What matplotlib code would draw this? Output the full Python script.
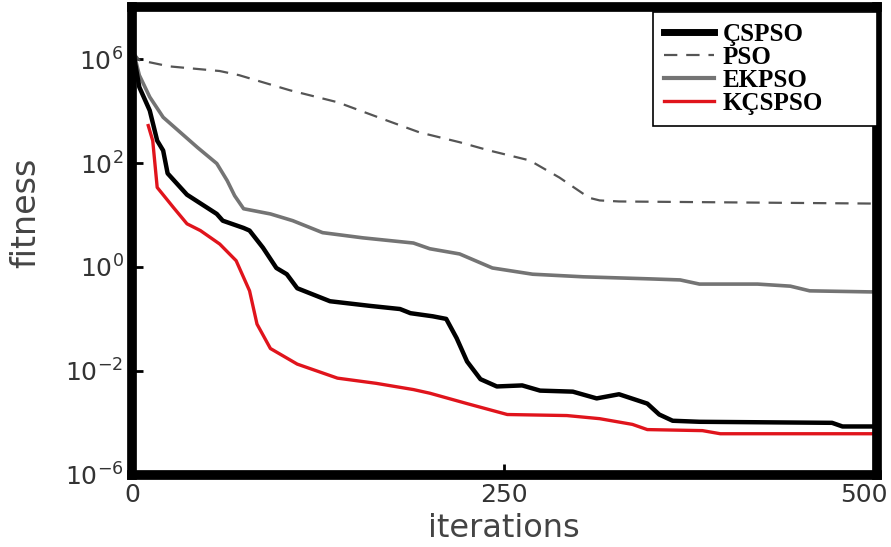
import numpy as np
import matplotlib
matplotlib.use('Agg')
import matplotlib.pyplot as plt
from matplotlib.transforms import ScaledTranslation

# values: iteration, log10(fitness)
pso_x = [0, 5, 25, 59, 72, 86, 106, 138, 171, 193, 220, 240, 267, 287, 307, 314, 327, 495, 500]
pso_y = [4.17, 3.98, 3.86, 3.77, 3.69, 3.57, 3.40, 3.17, 2.82, 2.59, 2.40, 2.24, 2.05, 1.72, 1.33, 1.28, 1.26, 1.22, 1.22]

ekpso_x = [0, 5, 12, 21, 44, 57, 64, 69, 75, 93, 108, 128, 155, 189, 200, 220, 242, 269, 303, 348, 368, 381, 420, 442, 455, 495, 500]
ekpso_y = [4.27, 3.69, 3.27, 2.88, 2.30, 1.99, 1.66, 1.37, 1.12, 1.02, 0.89, 0.66, 0.56, 0.46, 0.35, 0.25, -0.02, -0.14, -0.19, -0.23, -0.25, -0.33, -0.33, -0.37, -0.46, -0.48, -0.48]

cspso_x = [0, 5, 12, 17, 21, 24, 37, 57, 61, 75, 79, 88, 97, 104, 111, 133, 160, 180, 187, 202, 211, 218, 225, 234, 245, 262, 274, 296, 312, 327, 346, 354, 363, 381, 470, 477, 497, 500]
cspso_y = [4.27, 3.46, 3.01, 2.43, 2.24, 1.80, 1.39, 1.02, 0.89, 0.75, 0.70, 0.37, -0.02, -0.14, -0.41, -0.66, -0.75, -0.81, -0.89, -0.95, -1.00, -1.37, -1.82, -2.16, -2.30, -2.28, -2.38, -2.40, -2.53, -2.45, -2.63, -2.84, -2.96, -2.98, -3.00, -3.07, -3.07, -3.07]

kcspso_x = [11, 14, 17, 28, 37, 46, 59, 70, 79, 84, 93, 111, 138, 164, 189, 200, 225, 252, 292, 314, 336, 346, 383, 395, 495, 500]
kcspso_y = [2.72, 2.43, 1.53, 1.14, 0.83, 0.70, 0.44, 0.12, -0.46, -1.10, -1.57, -1.87, -2.14, -2.24, -2.36, -2.43, -2.63, -2.84, -2.86, -2.92, -3.03, -3.13, -3.15, -3.21, -3.21, -3.21]

ytick_vals = [1e4, 1e2, 1e0, 1e-2, 1e-4]
ytick_labels = ['6', '2', '0', '-2', '-6']
xtick_vals = [0, 250, 500]

fig = plt.figure(figsize=(8.91, 5.47), dpi=100)
ax = fig.add_axes([0.148, 0.132, 0.836, 0.855])

ax.plot(pso_x, 10.0 ** np.array(pso_y), color='#555555', lw=1.6, dashes=(6, 4), label='PSO')
ax.plot(ekpso_x, 10.0 ** np.array(ekpso_y), color='#747474', lw=2.6, label='EKPSO')
ax.plot(kcspso_x, 10.0 ** np.array(kcspso_y), color='#e0141c', lw=2.4, label='KÇSPSO')
ax.plot(cspso_x, 10.0 ** np.array(cspso_y), color='black', lw=3.2, label='ÇSPSO')

ax.set_yscale('log')
ax.set_xlim(0, 500)
ax.set_ylim(1e-4, 1e5)
ax.set_yticks(ytick_vals)
ax.set_yticklabels([r'$\mathregular{10^{%s}}$' % e for e in ytick_labels])
ax.yaxis.set_minor_locator(matplotlib.ticker.NullLocator())
ax.set_xticks(xtick_vals)
ax.set_xticklabels([str(v) for v in xtick_vals])
ax.tick_params(direction='in', length=8, width=2, labelsize=18, labelcolor='#333333', pad=6)
last = ax.get_xticklabels()[-1]
last.set_transform(last.get_transform() + ScaledTranslation(-9 / 72, 0, fig.dpi_scale_trans))

for s in ax.spines.values():
    s.set_linewidth(7)

ax.set_xlabel('iterations', fontsize=23, color='#444444', labelpad=4)
ax.set_ylabel('fitness', fontsize=24, color='#444444')
ax.yaxis.set_label_coords(-0.12, 0.56)

handles, labels = ax.get_legend_handles_labels()
order = [3, 0, 1, 2]
leg = ax.legend([handles[i] for i in order], [labels[i] for i in order],
                loc='upper right', bbox_to_anchor=(0.699, 0.75, 0.301, 0.24), mode='expand',
                borderaxespad=0,
                prop={'family': 'Liberation Serif', 'weight': 'bold', 'size': 18},
                fancybox=False, edgecolor='black', framealpha=1,
                handlelength=2.0, handletextpad=0.35, labelspacing=0.0,
                borderpad=0.45)
leg.get_frame().set_linewidth(1.2)
leg.legend_handles[0].set_linewidth(5)
leg.legend_handles[2].set_linewidth(3)

fig.savefig('out.png', dpi=100)
